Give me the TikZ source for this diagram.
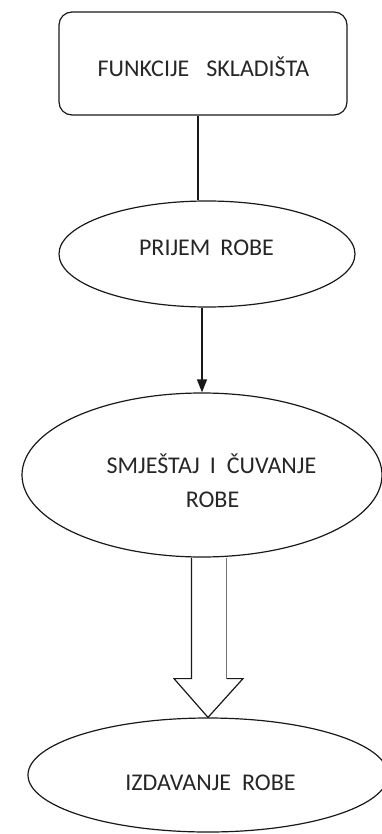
\documentclass[tikz,border=0pt]{standalone}
\usepackage{fontspec}
\setmainfont{Carlito}
\usetikzlibrary{shapes.geometric,arrows.meta,calc}
\begin{document}
\begin{tikzpicture}[x=1pt,y=-1pt,
  shp/.style={draw=black!90,line width=1.2pt},
  oval/.style={shp,ellipse,inner sep=0pt},
  lbl/.style={font=\fontsize{24}{34}\selectfont,text=black!85,inner sep=0pt,anchor=base},
  ]
\useasboundingbox (0,0) rectangle (382,834);
\clip (0,0) rectangle (382,834);
% shapes
\node[shp,rounded corners=13pt,minimum width=288pt,minimum height=103pt,inner sep=0pt] (box) at (203,63.5) {};
\node[oval,minimum width=296pt,minimum height=106pt] (prijem) at (207,254) {};
\node[oval,minimum width=360pt,minimum height=164pt] (smjestaj) at (202,475) {};
\node[oval,minimum width=360pt,minimum height=114pt] (izdavanje) at (208,775) {};
% labels
\node[lbl] (t1) at (203.5,77) {FUNKCIJE\hspace{17pt}SKLADIŠTA};
\node[lbl] (t2) at (206.5,255) {PRIJEM\hspace{10pt}ROBE};
\node[lbl] (t3a) at (211.5,473) {SMJEŠTAJ\hspace{10pt}I\hspace{11pt}ČUVANJE};
\node[lbl] (t3b) at (212.5,507) {ROBE};
\node[lbl] (t4) at (210.5,790) {IZDAVANJE\hspace{11pt}ROBE};
% connectors
\draw[shp] ([xshift=-5pt]box.south) -- ([xshift=-5pt]box.south |- prijem.north);
\draw[shp,-{Triangle[length=13pt,width=10pt]}] (prijem.south -| smjestaj.north) -- (smjestaj.north);
% block arrow
\coordinate (bt) at (smjestaj.south -| izdavanje.north);
\draw[shp,line join=miter] ($(bt)+(-16.5,0)$) -- ($(bt)+(-16.5,121)$) -- ($(bt)+(-34,121)$) -- (izdavanje.north) -- ($(bt)+(35,121)$) -- ($(bt)+(18.5,121)$);
\draw[draw=black!55,line width=1.4pt] ($(bt)+(18.5,121)$) -- ($(bt)+(18.5,0)$);
\end{tikzpicture}
\end{document}
